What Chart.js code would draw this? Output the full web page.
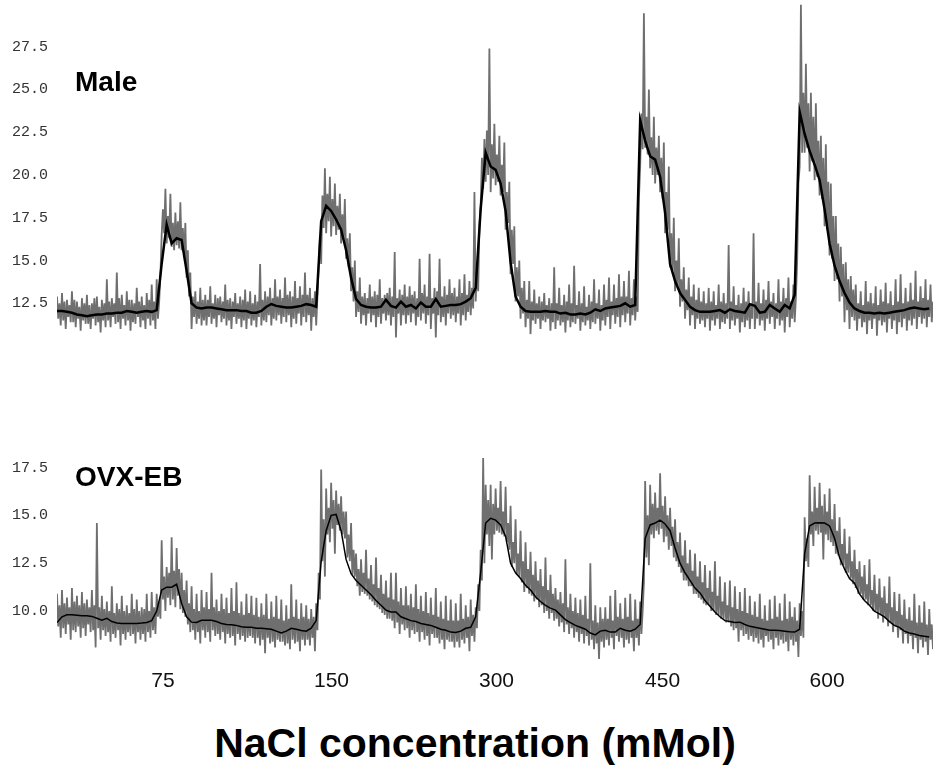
<!DOCTYPE html>
<html>
<head>
<meta charset="utf-8">
<script src="https://cdn.jsdelivr.net/npm/chart.js@4.4.1/dist/chart.umd.min.js"></script>
<style>
  html, body { margin: 0; padding: 0; background: #fff; overflow: hidden; }
  #wrap { position: relative; width: 933px; height: 767px; }
  .panel { position: absolute; left: 0; width: 933px; }
  .rotulo { position: absolute; font: bold 28px "Liberation Sans", Arial, sans-serif; line-height: 28px; color: #000; }
  #titulo { position: absolute; left: 0; top: 723px; width: 950px; text-align: center;
            font: bold 41px "Liberation Sans", Arial, sans-serif; line-height: 41px; color: #000; }
</style>
</head>
<body>
<div id="wrap">
  <div class="panel" style="top:0;height:390px"><canvas id="grafMale"></canvas></div>
  <div class="panel" style="top:440px;height:265px"><canvas id="grafOvx"></canvas></div>
  <div class="rotulo" style="left:75px;top:68px">Male</div>
  <div class="rotulo" style="left:75px;top:463px">OVX-EB</div>
  <div id="titulo">NaCl concentration (mMol)</div>
</div>
<script>
// tick labels
const yTicksMale = [12.5, 15.0, 17.5, 20.0, 22.5, 25.0, 27.5];
const yTicksOvx = [10.0, 12.5, 15.0, 17.5];
const xTickLabels = ['75', '150', '300', '450', '600'];
const xTickPos = [85.1, 220.3, 352.7, 486.0, 618.0]; // sample index under each label

// the smooth traces are sampled every 4 raw samples
const SMOOTH_STEP = 4;

// Male: raw signal (grey), 40 samples per row
const maleRaw = [
  12.9, 11.6, 12.5, 11.2, 13.1, 11.5, 12.6, 11.0, 12.7, 11.7, 12.4, 11.4, 13.2, 11.4, 12.7, 11.1, 12.6, 11.6, 12.3, 10.9, 12.8, 11.5, 12.5, 11.3, 13.0, 11.3, 12.4, 11.0, 12.5, 11.6, 12.8, 11.2, 12.9, 11.4, 12.3, 10.8, 12.7, 11.5, 12.5, 11.1,
  13.9, 11.5, 12.6, 11.1, 12.8, 11.7, 12.5, 11.3, 14.3, 11.4, 12.8, 11.0, 13.0, 11.6, 12.4, 11.2, 13.2, 11.5, 12.7, 10.9, 12.7, 11.4, 12.5, 11.3, 13.4, 11.7, 12.6, 11.1, 12.9, 11.5, 12.4, 11.0, 13.1, 11.6, 12.7, 11.2, 13.6, 11.5, 12.6, 11.0,
  13.9, 11.6, 12.6, 14.2, 16.5, 18.0, 16.6, 19.2, 16.0, 17.6, 16.3, 18.9, 15.8, 17.2, 15.6, 17.8, 15.9, 17.3, 15.7, 18.4, 15.6, 16.9, 15.2, 17.2, 14.0, 15.6, 12.9, 14.3, 11.0, 12.9, 11.7, 13.2, 11.3, 12.6, 11.6, 13.4, 11.2, 12.7, 11.5, 13.0,
  11.2, 12.7, 11.7, 13.5, 11.3, 12.5, 11.6, 13.0, 11.1, 12.8, 11.8, 12.9, 11.4, 12.6, 11.6, 13.6, 11.2, 12.7, 11.5, 12.8, 11.0, 12.6, 11.7, 13.1, 11.3, 12.5, 11.6, 12.9, 11.1, 12.7, 11.5, 13.3, 11.0, 12.6, 11.6, 13.2, 11.2, 12.5, 11.5, 13.0,
  11.1, 12.6, 11.7, 14.8, 11.2, 12.7, 11.5, 13.2, 11.4, 12.9, 11.8, 13.4, 11.2, 12.8, 11.6, 13.9, 11.5, 12.9, 11.8, 13.3, 11.3, 12.8, 11.7, 14.0, 11.4, 13.0, 11.8, 13.2, 11.1, 12.9, 11.6, 13.8, 11.3, 12.8, 11.9, 13.5, 11.2, 13.0, 11.7, 14.3,
  11.4, 13.0, 11.8, 13.4, 10.9, 12.8, 11.7, 13.2, 11.2, 12.9, 14.6, 16.4, 14.8, 18.8, 16.9, 20.4, 16.6, 18.9, 17.3, 19.9, 16.4, 18.6, 17.0, 19.5, 16.5, 18.2, 16.8, 18.9, 16.0, 17.7, 16.2, 18.6, 15.1, 16.3, 14.6, 16.6, 13.2, 14.6, 12.6, 15.0,
  11.7, 13.2, 12.0, 14.0, 11.3, 12.9, 11.8, 13.1, 11.2, 12.8, 11.9, 13.6, 11.4, 12.9, 11.8, 13.2, 11.1, 13.0, 11.7, 13.9, 11.3, 12.8, 11.9, 13.0, 11.5, 13.1, 11.8, 13.4, 11.2, 12.9, 11.7, 15.5, 10.5, 12.8, 11.9, 13.3, 11.2, 13.0, 11.8, 13.6,
  11.3, 12.9, 11.8, 13.5, 11.4, 13.0, 11.9, 13.2, 11.2, 12.8, 11.7, 15.1, 11.5, 13.1, 11.9, 13.6, 11.3, 12.9, 11.8, 15.4, 11.0, 12.8, 11.9, 13.4, 10.5, 13.2, 11.8, 15.1, 11.4, 12.9, 11.7, 13.5, 11.2, 13.0, 11.9, 13.9, 11.6, 13.1, 11.8, 13.4,
  11.4, 12.9, 11.9, 13.9, 11.2, 13.1, 11.8, 14.2, 11.5, 13.0, 12.0, 13.8, 11.8, 13.4, 12.2, 19.0, 12.6, 14.5, 13.2, 17.0, 18.2, 21.0, 19.2, 22.1, 19.6, 22.6, 20.0, 27.4, 19.0, 21.8, 19.8, 23.0, 19.4, 21.2, 19.6, 22.3, 18.8, 20.6, 19.0, 21.9,
  16.8, 19.0, 17.2, 19.6, 14.2, 16.8, 14.8, 17.0, 12.6, 14.6, 12.9, 15.0, 11.6, 13.4, 11.9, 13.8, 11.1, 12.7, 11.6, 13.8, 10.7, 12.6, 11.5, 13.3, 11.3, 12.5, 11.6, 12.9, 11.0, 12.6, 11.5, 13.1, 11.4, 12.4, 11.6, 12.8, 10.9, 12.5, 11.4, 14.6,
  11.0, 12.5, 11.5, 13.4, 11.2, 12.4, 11.4, 13.0, 10.8, 12.6, 11.5, 13.6, 11.1, 12.5, 11.4, 14.7, 11.3, 12.4, 11.6, 13.2, 10.9, 12.5, 11.4, 13.5, 11.2, 12.3, 11.5, 13.0, 11.0, 12.6, 11.4, 13.9, 11.3, 12.5, 11.6, 13.3, 10.9, 12.4, 11.5, 13.6,
  11.2, 12.7, 11.7, 14.0, 11.0, 12.6, 11.8, 13.6, 11.3, 12.8, 11.7, 14.2, 11.1, 12.9, 11.8, 13.8, 11.4, 12.9, 11.9, 14.4, 11.2, 12.8, 11.8, 13.9, 11.5, 12.9, 12.0, 18.6, 20.5, 23.6, 21.5, 29.45, 21.6, 23.4, 21.2, 25.0, 20.4, 22.2, 20.0, 23.4,
  19.5, 21.6, 20.0, 22.3, 19.0, 21.0, 18.6, 21.9, 16.6, 19.0, 16.8, 20.5, 14.6, 16.6, 14.4, 17.5, 13.2, 15.0, 13.5, 16.3, 12.3, 13.9, 12.6, 14.6, 11.6, 13.3, 12.1, 14.0, 11.2, 12.9, 11.8, 13.6, 11.0, 12.7, 11.6, 13.4, 11.3, 12.6, 11.5, 13.2,
  11.1, 12.5, 11.6, 13.4, 10.9, 12.6, 11.5, 13.2, 11.2, 12.4, 11.6, 13.6, 11.0, 12.6, 11.4, 13.1, 11.3, 12.5, 11.6, 15.9, 11.0, 12.6, 11.5, 13.5, 11.2, 12.4, 11.6, 13.0, 10.8, 12.5, 11.4, 13.4, 11.1, 12.6, 11.5, 13.2, 11.0, 12.5, 11.6, 16.6,
  11.0, 12.6, 11.6, 13.7, 11.2, 12.5, 11.5, 13.3, 10.9, 12.7, 11.6, 13.8, 11.3, 12.6, 11.7, 13.1, 11.0, 12.5, 11.6, 13.9, 11.2, 12.6, 11.5, 13.4, 10.8, 12.8, 11.7, 14.0, 11.1, 12.6, 11.6, 13.6, 11.4, 12.9, 15.0, 19.5, 20.5, 29.95, 21.3, 24.8,
  21.3, 26.5, 21.6, 24.2, 20.2, 24.8, 20.8, 23.4, 19.7, 24.2, 19.9, 22.0, 18.8, 22.3, 18.6, 21.0, 17.0, 21.8, 16.8, 19.6, 15.3, 19.5, 15.1, 17.6, 13.8, 17.6, 13.9, 16.0, 12.6, 15.8, 12.9, 14.8, 11.4, 14.9, 12.1, 13.9, 11.0, 14.1, 11.7, 13.3,
  11.5, 13.6, 10.9, 12.5, 11.6, 13.2, 11.1, 12.4, 11.4, 13.8, 10.7, 12.6, 11.5, 13.1, 11.0, 12.5, 11.6, 13.5, 10.6, 12.4, 11.5, 13.3, 11.2, 12.6, 11.4, 13.7, 10.8, 12.5, 11.6, 13.2, 11.0, 12.4, 11.5, 13.9, 10.7, 12.6, 11.4, 14.2, 11.1, 12.5,
  11.6, 13.4, 10.9, 12.6, 11.5, 13.7, 11.2, 12.7, 11.6, 14.4, 11.0, 12.6, 11.7, 13.5, 11.3, 12.8, 11.6, 13.9, 11.1, 12.7, 11.7, 13.6, 11.4, 12.6
];

// Male: smoothed trace (black)
const maleSmooth = [
  12.05, 12.05, 12.0, 11.95, 11.85, 11.8, 11.75, 11.8, 11.85, 11.85,
  11.9, 11.9, 11.95, 11.95, 12.05, 12.0, 11.95, 12.0, 12.05, 12.0,
  12.1, 14.8, 17.1, 16.0, 16.3, 16.2, 14.4, 12.5, 12.25, 12.2,
  12.25, 12.25, 12.2, 12.15, 12.1, 12.1, 12.1, 12.05, 12.05, 11.95,
  11.95, 12.05, 12.3, 12.45, 12.35, 12.3, 12.25, 12.25, 12.3, 12.35,
  12.45, 12.4, 12.3, 17.3, 18.2, 17.9, 17.4, 16.8, 15.6, 14.0,
  12.75, 12.4, 12.3, 12.25, 12.25, 12.3, 12.7, 12.35, 12.25, 12.6,
  12.3, 12.4, 12.2, 12.55, 12.3, 12.3, 12.75, 12.3, 12.35, 12.4,
  12.4, 12.45, 12.6, 12.8, 13.4, 18.0, 21.3, 20.5, 20.3, 19.5,
  17.9, 14.9, 12.9, 12.3, 12.05, 12.0, 12.0, 12.0, 12.05, 12.0,
  12.0, 11.9, 11.95, 11.85, 11.85, 11.9, 11.85, 11.95, 12.15, 12.05,
  12.2, 12.25, 12.3, 12.35, 12.5, 12.3, 12.4, 23.2, 22.0, 21.1,
  20.9, 19.9, 17.8, 14.8, 13.8, 13.1, 12.7, 12.3, 12.1, 12.0,
  12.0, 12.0, 12.05, 12.1, 11.95, 12.15, 12.05, 12.0, 11.95, 12.45,
  12.35, 11.95, 12.0, 12.4, 12.2, 12.0, 12.4, 12.2, 13.0, 23.7,
  22.4, 21.4, 20.6, 19.7, 18.0, 16.0, 14.7, 13.8, 13.1, 12.55,
  12.2, 12.05, 11.95, 11.95, 11.9, 11.95, 11.9, 11.95, 12.0, 12.05,
  12.1, 12.2, 12.25, 12.2, 12.15, 12.2
];

// OVX-EB: raw signal (grey), 40 samples per row
const ovxRaw = [
  10.9, 9.2, 10.3, 8.6, 11.1, 9.1, 10.4, 8.8, 10.7, 9.3, 10.2, 8.5, 11.2, 9.0, 10.5, 8.9, 10.8, 9.2, 10.3, 8.6, 11.0, 9.1, 10.4, 8.7, 10.6, 9.3, 10.2, 8.9, 11.1, 9.0, 10.3, 8.1, 14.6, 9.1, 10.2, 8.5, 10.8, 9.0, 10.1, 8.7,
  10.5, 8.9, 10.0, 8.4, 11.3, 8.8, 9.9, 8.6, 10.4, 9.0, 10.1, 8.2, 10.8, 8.8, 10.0, 8.5, 10.3, 8.9, 9.9, 8.7, 10.9, 8.8, 10.1, 8.3, 10.6, 8.9, 10.0, 8.5, 10.2, 8.8, 10.1, 8.4, 10.9, 8.9, 10.0, 8.6, 11.0, 9.0, 10.2, 8.8,
  10.9, 9.7, 10.5, 9.6, 13.7, 10.6, 11.8, 10.0, 12.3, 10.7, 12.0, 10.3, 13.85, 10.6, 12.1, 10.2, 13.3, 10.8, 12.2, 10.1, 12.0, 9.9, 11.1, 9.7, 11.6, 9.3, 10.4, 8.9, 11.3, 9.0, 10.1, 8.5, 10.9, 8.9, 10.0, 8.3, 11.1, 9.0, 10.2, 8.6,
  11.0, 8.9, 10.1, 8.4, 12.0, 9.0, 10.2, 8.7, 10.6, 8.8, 10.0, 8.5, 10.9, 8.9, 10.1, 8.3, 10.7, 8.8, 9.9, 8.6, 11.2, 8.7, 10.0, 8.2, 11.5, 8.8, 9.9, 8.5, 10.5, 8.7, 9.8, 8.4, 10.9, 8.6, 9.9, 8.7, 10.8, 8.6, 9.8, 8.3,
  10.7, 8.6, 9.7, 8.2, 10.4, 8.5, 9.8, 7.8, 10.9, 8.6, 9.6, 8.3, 10.5, 8.4, 9.7, 8.1, 10.8, 8.5, 9.6, 8.4, 10.6, 8.4, 9.5, 8.2, 10.3, 8.3, 9.6, 8.0, 11.4, 8.5, 9.7, 8.3, 10.6, 8.4, 9.6, 7.9, 10.4, 8.5, 9.7, 8.2,
  10.3, 8.5, 9.6, 8.2, 10.1, 8.6, 9.7, 7.9, 10.4, 9.0, 12.0, 10.6, 17.4, 12.6, 14.8, 11.8, 16.4, 14.0, 15.4, 13.6, 16.7, 14.3, 15.8, 13.0, 16.3, 14.5, 15.6, 14.2, 16.0, 14.0, 15.2, 13.8, 15.2, 12.8, 14.0, 12.6, 14.6, 11.9, 13.2, 11.8,
  13.0, 11.3, 12.2, 10.8, 12.7, 11.0, 12.0, 10.9, 13.2, 10.8, 11.7, 10.6, 12.4, 10.5, 11.4, 10.3, 12.8, 10.2, 11.2, 10.1, 11.9, 9.9, 10.9, 9.8, 11.6, 9.6, 10.7, 9.6, 12.0, 9.5, 10.6, 9.1, 12.0, 9.4, 10.5, 8.8, 11.2, 9.3, 10.3, 9.0,
  11.3, 9.1, 10.3, 8.6, 10.9, 9.0, 10.2, 8.8, 11.4, 8.9, 10.1, 8.4, 10.8, 8.9, 10.0, 8.5, 11.0, 8.7, 9.9, 8.2, 10.7, 8.8, 9.8, 8.6, 11.2, 8.6, 9.7, 8.3, 10.5, 8.5, 9.6, 8.0, 10.8, 8.5, 9.5, 8.4, 10.6, 8.4, 9.5, 8.1,
  10.4, 8.4, 9.5, 8.1, 10.9, 8.5, 9.6, 8.3, 10.3, 8.6, 9.7, 7.9, 10.6, 8.7, 9.8, 8.4, 10.2, 9.1, 11.4, 10.0, 13.2, 11.6, 18.0, 12.5, 16.6, 14.0, 15.8, 13.4, 16.6, 12.7, 15.6, 14.0, 16.4, 14.2, 15.4, 14.1, 16.8, 14.0, 15.2, 13.9,
  16.5, 13.6, 14.6, 13.2, 15.5, 12.3, 13.6, 12.5, 14.8, 11.9, 13.0, 11.8, 14.2, 11.5, 12.6, 11.0, 13.6, 11.2, 12.2, 10.9, 13.1, 10.8, 11.9, 10.5, 12.6, 10.6, 11.6, 10.2, 12.2, 10.3, 11.3, 9.9, 12.8, 10.0, 11.1, 9.6, 11.9, 9.9, 10.9, 9.5,
  11.2, 9.6, 10.6, 9.2, 11.0, 9.4, 10.4, 8.9, 12.7, 9.3, 10.2, 8.8, 10.9, 9.1, 10.0, 8.6, 10.7, 8.9, 9.9, 8.4, 10.6, 8.8, 9.8, 8.3, 10.8, 8.7, 9.6, 8.2, 12.5, 8.5, 9.5, 8.0, 10.3, 8.3, 9.4, 7.5, 10.2, 8.4, 9.6, 8.1,
  10.2, 8.5, 9.6, 8.2, 10.8, 8.6, 9.5, 8.0, 11.1, 8.7, 9.7, 8.4, 10.4, 8.6, 9.6, 8.1, 10.7, 8.5, 9.7, 8.3, 10.9, 8.6, 9.5, 7.9, 10.6, 8.6, 9.6, 8.2, 10.5, 8.8, 10.0, 11.5, 16.8, 12.8, 15.0, 12.4, 16.6, 14.0, 15.6, 13.8,
  16.2, 14.2, 15.4, 14.0, 17.2, 14.3, 15.5, 13.6, 16.0, 13.9, 15.0, 13.2, 15.4, 13.4, 14.4, 12.8, 14.8, 12.6, 13.6, 12.3, 14.1, 12.0, 12.9, 11.6, 13.7, 11.6, 12.5, 11.3, 13.2, 11.3, 12.1, 10.9, 13.0, 10.9, 11.8, 10.7, 12.6, 10.6, 11.5, 10.4,
  12.4, 10.3, 11.2, 10.3, 12.1, 10.0, 11.0, 10.0, 12.6, 9.8, 10.8, 9.8, 11.8, 9.6, 10.5, 9.6, 11.5, 9.4, 10.3, 9.4, 11.6, 9.2, 10.2, 9.0, 11.3, 9.1, 10.1, 8.4, 11.0, 9.0, 10.0, 8.7, 11.2, 8.8, 9.9, 8.5, 10.8, 8.7, 9.8, 8.4,
  10.5, 8.6, 9.7, 8.3, 10.9, 8.5, 9.6, 8.1, 10.3, 8.7, 9.5, 8.4, 10.6, 8.5, 9.6, 8.0, 10.8, 8.6, 9.7, 8.2, 10.4, 8.5, 9.5, 8.3, 10.9, 8.4, 9.6, 7.9, 10.5, 8.5, 9.7, 8.2, 10.2, 8.4, 9.5, 7.6, 10.4, 8.7, 10.0, 8.6,
  14.9, 12.6, 13.8, 12.3, 17.1, 14.0, 15.2, 13.4, 16.5, 14.2, 15.4, 14.0, 16.7, 14.1, 15.5, 12.7, 16.1, 14.0, 15.2, 13.7, 16.4, 13.6, 14.8, 13.4, 15.6, 13.0, 14.2, 12.9, 14.9, 12.4, 13.5, 12.4, 14.3, 12.0, 13.0, 12.0, 13.9, 11.7, 12.6, 11.4,
  13.2, 11.2, 12.2, 10.9, 12.6, 10.9, 11.8, 10.6, 12.4, 10.6, 11.4, 10.3, 12.7, 10.3, 11.1, 10.0, 11.9, 10.0, 10.9, 9.6, 11.7, 9.8, 10.7, 9.4, 11.3, 9.6, 10.4, 9.2, 11.8, 9.4, 10.2, 8.9, 11.0, 9.2, 10.0, 8.6, 10.9, 9.0, 9.8, 8.3,
  10.6, 8.8, 9.6, 8.3, 10.2, 8.7, 9.5, 8.0, 10.9, 8.6, 9.4, 7.8, 10.3, 8.5, 9.4, 8.1, 10.5, 8.4, 9.3, 7.7, 10.1, 8.5, 9.3, 8.0
];

// OVX-EB: smoothed trace (black)
const ovxSmooth = [
  9.4, 9.7, 9.8, 9.8, 9.78, 9.75, 9.75, 9.72, 9.62, 9.52,
  9.62, 9.45, 9.38, 9.35, 9.35, 9.35, 9.35, 9.37, 9.4, 9.5,
  10.0, 11.1, 11.25, 11.25, 11.4, 10.4, 9.7, 9.42, 9.4, 9.52,
  9.52, 9.52, 9.45, 9.35, 9.3, 9.28, 9.25, 9.18, 9.15, 9.15,
  9.1, 9.1, 9.08, 9.05, 8.95, 8.85, 8.95, 9.1, 9.05, 8.98,
  8.95, 9.1, 9.5, 12.6, 14.2, 15.0, 15.05, 14.2, 12.7, 11.95,
  11.6, 11.35, 11.1, 10.85, 10.55, 10.3, 10.05, 9.95, 9.95, 9.7,
  9.6, 9.5, 9.45, 9.35, 9.3, 9.25, 9.15, 9.05, 9.0, 8.9,
  8.88, 8.95, 9.1, 9.15, 9.7, 12.0, 14.6, 14.85, 14.75, 14.5,
  13.9, 12.5, 12.0, 11.7, 11.35, 11.1, 10.75, 10.5, 10.3, 10.15,
  10.05, 9.8, 9.55, 9.4, 9.25, 9.15, 9.05, 8.85, 8.75, 8.95,
  9.0, 8.9, 8.9, 9.1, 9.0, 8.95, 9.05, 9.3, 13.8, 14.5,
  14.6, 14.75, 14.55, 14.2, 13.3, 12.5, 12.0, 11.6, 11.2, 10.95,
  10.55, 10.25, 9.95, 9.7, 9.5, 9.45, 9.4, 9.42, 9.3, 9.2,
  9.15, 9.1, 9.05, 9.0, 9.0, 8.98, 8.95, 8.92, 8.9, 9.05,
  13.0, 14.45, 14.6, 14.62, 14.6, 14.45, 13.8, 12.8, 12.2, 11.7,
  11.45, 10.9, 10.55, 10.3, 10.0, 9.85, 9.7, 9.45, 9.25, 9.15,
  8.95, 8.85, 8.8, 8.72, 8.68, 8.64
];

function dibujarPanel(canvasId, raw, smooth, yMin, yMax, yTicks, smoothWidth, conEjeX) {
  const ctx = document.getElementById(canvasId).getContext('2d');
  return new Chart(ctx, {
    type: 'line',
    data: {
      datasets: [
        {
          // first dataset is drawn on top
          data: smooth.map((v, k) => ({ x: k * SMOOTH_STEP, y: v })),
          borderColor: '#000',
          borderWidth: smoothWidth,
          pointRadius: 0
        },
        {
          data: raw.map((v, i) => ({ x: i, y: v })),
          borderColor: '#6f6f6f',
          borderWidth: 1.8,
          borderJoinStyle: 'bevel',
          pointRadius: 0
        }
      ]
    },
    options: {
      responsive: true,
      maintainAspectRatio: false,
      animation: false,
      layout: { padding: 0 },
      elements: { line: { tension: 0 } },
      plugins: { legend: { display: false }, tooltip: { enabled: false } },
      scales: {
        x: {
          type: 'linear',
          min: 0,
          max: raw.length - 1,
          display: conEjeX,
          grid: { display: false, drawTicks: false },
          border: { display: false },
          afterBuildTicks: s => { s.ticks = xTickPos.map(v => ({ value: v })); },
          afterFit: s => { s.height = 40; s.paddingLeft = 0; s.paddingRight = 0; },
          ticks: {
            autoSkip: false,
            maxRotation: 0,
            padding: 4,
            color: '#111',
            font: { family: '"Liberation Sans", Arial, sans-serif', size: 21 },
            callback: (v, i) => xTickLabels[i]
          }
        },
        y: {
          min: yMin,
          max: yMax,
          grid: { display: false, drawTicks: false },
          border: { display: false },
          afterBuildTicks: s => { s.ticks = yTicks.map(v => ({ value: v })); },
          afterFit: s => { s.width = 57; s.paddingTop = 0; s.paddingBottom = 0; },
          ticks: {
            padding: 9,
            color: '#333',
            font: { family: '"Liberation Mono", monospace', size: 15 },
            callback: v => Number(v).toFixed(1)
          }
        }
      }
    }
  });
}

dibujarPanel('grafMale', maleRaw, maleSmooth, 9.77, 30.23, yTicksMale, 2.5, false);
dibujarPanel('grafOvx', ovxRaw, ovxSmooth, 7.18, 18.94, yTicksOvx, 1.5, true);
</script>
</body>
</html>
